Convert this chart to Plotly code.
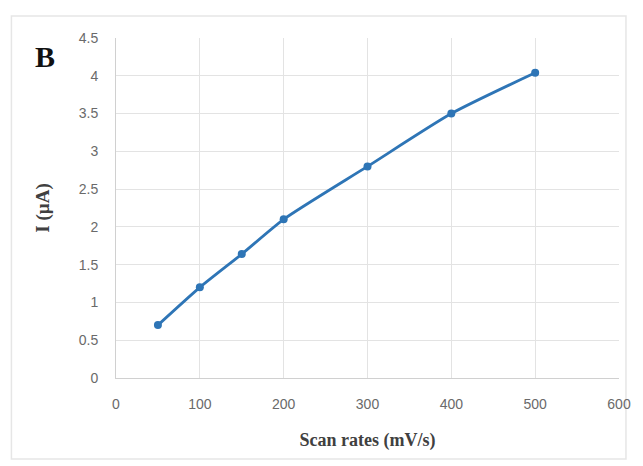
import plotly.graph_objects as go

scan_rates = [50, 100, 150, 200, 300, 400, 500]
current = [0.70, 1.20, 1.64, 2.10, 2.80, 3.50, 4.04]
x_ticks = [0, 100, 200, 300, 400, 500, 600]
y_ticks = [0, 0.5, 1, 1.5, 2, 2.5, 3, 3.5, 4, 4.5]
y_tick_labels = ["0", "0.5", "1", "1.5", "2", "2.5", "3", "3.5", "4", "4.5"]

W, H = 643, 466
L, R, T, B = 116, 22, 38, 88
pw, ph = W - L - R, H - T - B

def px_x(p):
    return (p - L) / pw

def px_y(p):
    return (H - B - p) / ph

fig = go.Figure()
fig.add_trace(go.Scatter(
    x=scan_rates, y=current, mode="lines+markers",
    line=dict(color="#2e75b6", width=2.8, shape="spline", smoothing=0.6),
    marker=dict(color="#2e75b6", size=8),
    showlegend=False,
))

tick_font = dict(family="Liberation Sans, Arial", size=14, color="#6a6a6a")
serif = "Liberation Serif, Times New Roman"

fig.update_layout(
    width=W, height=H,
    margin=dict(l=L, r=R, t=T, b=B),
    paper_bgcolor="white", plot_bgcolor="white",
    xaxis=dict(
        range=[0, 600], tickvals=x_ticks, ticktext=[str(v) for v in x_ticks],
        showgrid=True, gridcolor="#e3e3e3", gridwidth=1,
        zeroline=False, showline=True, linecolor="#d0d0d0", linewidth=1,
        ticks="", tickfont=tick_font, ticklabelstandoff=13,
        title=dict(text="<b>Scan rates (mV/s)</b>",
                   font=dict(family=serif, size=18, color="#404040"), standoff=22),
    ),
    yaxis=dict(
        range=[0, 4.5], tickvals=y_ticks, ticktext=y_tick_labels,
        showgrid=True, gridcolor="#e3e3e3", gridwidth=1,
        zeroline=False, showline=True, linecolor="#d0d0d0", linewidth=1,
        ticks="", tickfont=tick_font, ticklabelstandoff=14,
        title=dict(text="<b>I (µA)</b>",
                   font=dict(family=serif, size=19, color="#404040"), standoff=24),
    ),
    shapes=[dict(
        type="rect", xref="paper", yref="paper",
        x0=px_x(11), x1=px_x(628), y0=px_y(459), y1=px_y(16),
        line=dict(color="#e6e6e6", width=1.5), fillcolor="rgba(0,0,0,0)",
        layer="below",
    )],
    annotations=[dict(
        text="<b>B</b>", xref="paper", yref="paper",
        x=px_x(45), y=px_y(56), xanchor="center", yanchor="middle",
        showarrow=False,
        font=dict(family=serif, size=30, color="#111111"),
    )],
)

fig.write_html("out.html")
